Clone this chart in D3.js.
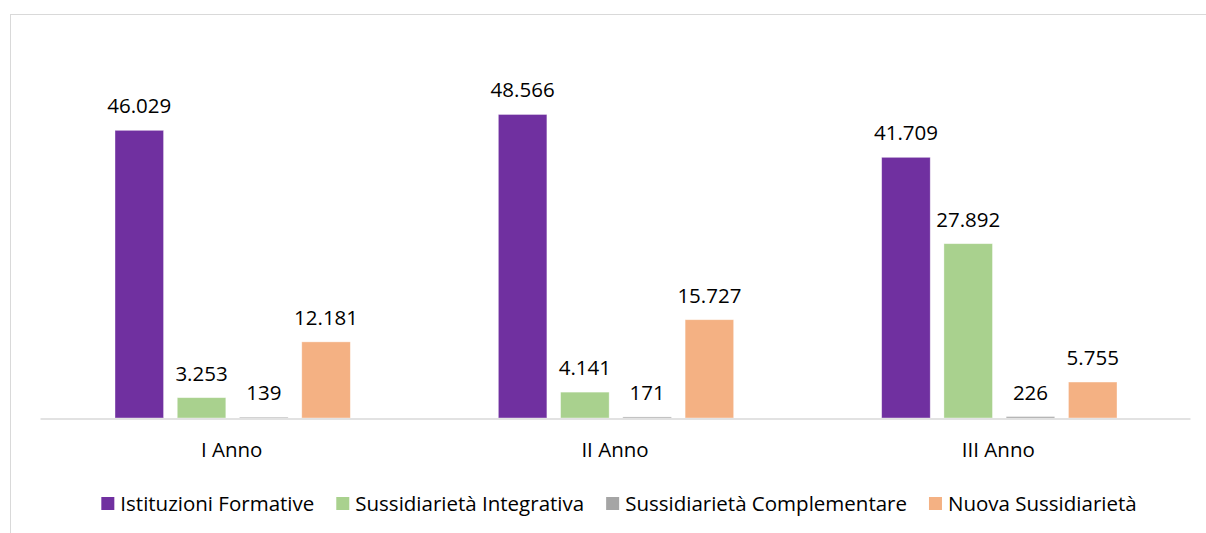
<!DOCTYPE html>
<html>
<head>
<meta charset="utf-8">
<script src="https://cdn.jsdelivr.net/npm/d3@7"></script>
<style>
  body { margin: 0; background: #fff; }
  text { font-family: "Open Sans", sans-serif; fill: #000; }
</style>
</head>
<body>
<div id="chart"></div>
<script>
// Data
const categories = ["I Anno", "II Anno", "III Anno"];
const seriesNames = [
  "Istituzioni Formative",
  "Sussidiarietà Integrativa",
  "Sussidiarietà Complementare",
  "Nuova Sussidiarietà"
];
const istituzioniFormative = [46029, 48566, 41709];
const sussIntegrativa = [3253, 4141, 27892];
const sussComplementare = [139, 171, 226];
const nuovaSussidiarieta = [12181, 15727, 5755];
const seriesColors = ["#7030A0", "#A9D18E", "#A5A5A5", "#F4B183"];

const seriesValues = [istituzioniFormative, sussIntegrativa, sussComplementare, nuovaSussidiarieta];

// Dimensions
const W = 1206, H = 533;
const plot = { left: 40, right: 1190, top: 43, bottom: 418 };
const fontSize = "20.5px";

const svg = d3.select("#chart")
  .append("svg")
  .attr("width", W)
  .attr("height", H);

// Chart area border
svg.append("rect")
  .attr("x", 10.5)
  .attr("y", 14.5)
  .attr("width", W + 10)
  .attr("height", H + 10)
  .attr("fill", "#fff")
  .attr("stroke", "#d9d9d9");

// Scales
const x0 = d3.scaleBand()
  .domain(categories)
  .range([plot.left, plot.right]);

const x1 = d3.scaleBand()
  .domain(seriesNames)
  .range([75, x0.bandwidth() - 73])
  .paddingInner(0.22);

const y = d3.scaleLinear()
  .domain([0, 60000])
  .range([plot.bottom, plot.top]);

// Rows for bars
const rows = [];
categories.forEach((c, i) => {
  seriesNames.forEach((s, j) => {
    rows.push({ cat: c, series: s, value: seriesValues[j][i], color: seriesColors[j] });
  });
});

const fmt = d3.formatLocale({ decimal: ",", thousands: ".", grouping: [3], currency: ["", "€"] }).format(",d");

const g = svg.append("g");

g.selectAll(".bar")
  .data(rows)
  .enter()
  .append("rect")
  .attr("class", "bar")
  .attr("x", (d) => x0(d.cat) + x1(d.series))
  .attr("y", (d) => y(d.value))
  .attr("width", x1.bandwidth())
  .attr("height", (d) => y(0) - y(d.value))
  .attr("fill", (d) => d.color)
  .attr("stroke", "#fff")
  .attr("stroke-opacity", 0.5)
  .attr("stroke-width", 0.75);

// Value labels
g.selectAll(".label")
  .data(rows)
  .enter()
  .append("text")
  .attr("class", "label")
  .attr("x", (d) => x0(d.cat) + x1(d.series) + x1.bandwidth() / 2)
  .attr("y", (d) => y(d.value) - 17)
  .attr("text-anchor", "middle")
  .style("font-size", fontSize)
  .text((d) => fmt(d.value));

// X axis
const xAxis = d3.axisBottom(x0).tickSize(0).tickPadding(24);
const axisG = svg.append("g")
  .attr("transform", `translate(0,${plot.bottom + 0.5})`)
  .call(xAxis);
axisG.select(".domain").attr("stroke", "#d9d9d9").attr("stroke-width", 1.5);
axisG.selectAll(".tick text")
  .style("font-size", fontSize)
  .style("font-family", "'Open Sans', sans-serif")
  .attr("fill", "#000");

// Legend
const legend = svg.append("g").attr("transform", "translate(0,504)");
const items = legend.selectAll(".item")
  .data(seriesNames)
  .enter()
  .append("g")
  .attr("class", "item");

items.append("rect")
  .attr("width", 13)
  .attr("height", 13)
  .attr("y", -7)
  .attr("fill", (d, i) => seriesColors[i]);

items.append("text")
  .attr("x", 19)
  .attr("dy", "0.35em")
  .style("font-size", fontSize)
  .text((d) => d);

let cx = 0;
const offsets = [];
items.each(function () {
  const w = this.getBBox().width;
  offsets.push(cx);
  cx += w + 22;
});
const totalW = cx - 22;
const startX = (plot.left + plot.right) / 2 + 4 - totalW / 2;
items.attr("transform", (d, i) => `translate(${startX + offsets[i]},0)`);
</script>
</body>
</html>
